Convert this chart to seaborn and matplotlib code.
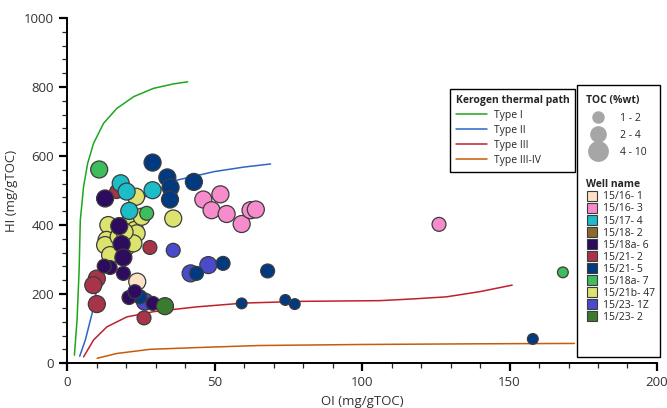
import matplotlib.pyplot as plt
import matplotlib.lines as mlines
import matplotlib.patches as mpatches
from matplotlib.ticker import MultipleLocator
import pandas as pd
import seaborn as sns

# well names / colours (legend order)
wells = ['15/16- 1', '15/16- 3', '15/17- 4', '15/18- 2', '15/18a- 6', '15/21- 2',
         '15/21- 5', '15/18a- 7', '15/21b- 47', '15/23- 1Z', '15/23- 2']
well_colors = ['#fde2c6', '#f78ccc', '#1cbcc8', '#8c6a2c', '#2d0b5e', '#a8344a',
               '#023a80', '#3dbd5c', '#dde36f', '#4a4bcb', '#3b7b2f']

# TOC classes
toc_classes = ['1 - 2', '2 - 4', '4 - 10']

# samples (OI, HI, TOC class) per well
yellow_oi = [23.4, 36.0, 14.0, 13.4, 21.3, 23.0, 21.9, 23.6, 20.2, 25.3, 12.9, 14.6, 22.5, 17.5, 19.5]
yellow_hi = [482, 419, 400, 357, 410, 386, 361, 376, 337, 424, 342, 313, 347, 366, 380]
yellow_toc = ['4 - 10'] * 15

crimson_oi = [16.8, 28.1, 10.1, 8.9, 10.1, 26.1]
crimson_hi = [497, 335, 245, 226, 171, 131]
crimson_toc = ['2 - 4', '2 - 4', '4 - 10', '4 - 10', '4 - 10', '2 - 4']

blue_oi = [36.0, 41.9, 47.9, 26.4]
blue_hi = [327, 260, 284, 178]
blue_toc = ['2 - 4', '4 - 10', '4 - 10', '4 - 10']

cyan_oi = [18.2, 20.2, 29.0, 21.1]
cyan_hi = [521, 497, 501, 441]
cyan_toc = ['4 - 10'] * 4

pink_oi = [46.2, 52.0, 49.0, 54.1, 59.2, 62.2, 64.0, 126.1]
pink_hi = [474, 489, 443, 432, 403, 443, 445, 402]
pink_toc = ['4 - 10'] * 7 + ['2 - 4']

green_oi = [10.9, 27.0, 168.1]
green_hi = [561, 434, 263]
green_toc = ['4 - 10', '2 - 4', '1 - 2']

beige_oi = [23.8]
beige_hi = [236]
beige_toc = ['4 - 10']

navy_oi = [29.0, 34.0, 35.1, 34.9, 43.0, 43.9, 52.9, 68.0, 59.2, 74.0, 77.2, 157.9, 24.7]
navy_hi = [581, 538, 509, 474, 525, 260, 289, 267, 173, 183, 171, 70, 192]
navy_toc = ['4 - 10'] * 5 + ['2 - 4'] * 3 + ['1 - 2'] * 4 + ['2 - 4']

purple_oi = [12.9, 17.7, 18.5, 19.1, 14.6, 12.6, 19.1, 21.0, 23.0, 29.1]
purple_hi = [477, 397, 345, 306, 277, 281, 260, 190, 207, 173]
purple_toc = ['4 - 10'] * 4 + ['2 - 4'] * 6

dkgreen_oi = [33.2]
dkgreen_hi = [165]
dkgreen_toc = ['4 - 10']

# kerogen thermal paths
type1_oi = [2.5, 3.4, 4.1, 4.5, 5.6, 7.0, 9.0, 12.4, 16.9, 22.6, 29.3, 36.1, 40.9]
type1_hi = [23, 125, 270, 414, 511, 579, 637, 695, 738, 772, 796, 809, 815]
type2_oi = [4.3, 6.2, 8.5, 10.7, 12.4, 15.5, 20.0, 26.5, 37.2, 50.0, 60.0, 69.0]
type2_hi = [20, 67, 144, 241, 308, 375, 432, 482, 530, 555, 568, 577]
type3_oi = [5.6, 9.0, 13.5, 20.3, 29.3, 44.0, 60.0, 80.0, 106.0, 117.3, 128.6, 139.9, 150.9]
type3_hi = [18, 67, 105, 134, 149, 163, 174, 179, 181, 186, 192, 207, 226]
type34_oi = [10.2, 16.9, 28.2, 44.0, 65.0, 100.0, 140.0, 172.0]
type34_hi = [14, 28, 40, 45, 51, 54, 56, 57]

path_names = ['Type I', 'Type II', 'Type III', 'Type III-IV']
path_colors = ['#1ea61e', '#2b66c6', '#c0202c', '#c85a0c']

groups = [
    ('15/21b- 47', yellow_oi, yellow_hi, yellow_toc),
    ('15/21- 2', crimson_oi, crimson_hi, crimson_toc),
    ('15/23- 1Z', blue_oi, blue_hi, blue_toc),
    ('15/17- 4', cyan_oi, cyan_hi, cyan_toc),
    ('15/16- 3', pink_oi, pink_hi, pink_toc),
    ('15/18a- 7', green_oi, green_hi, green_toc),
    ('15/16- 1', beige_oi, beige_hi, beige_toc),
    ('15/21- 5', navy_oi, navy_hi, navy_toc),
    ('15/18a- 6', purple_oi, purple_hi, purple_toc),
    ('15/23- 2', dkgreen_oi, dkgreen_hi, dkgreen_toc),
]
frames = [pd.DataFrame({'well': w, 'OI': o, 'HI': h, 'TOC': t}) for w, o, h, t in groups]
df = pd.concat(frames, ignore_index=True)

paths = pd.concat([
    pd.DataFrame({'path': n, 'OI': o, 'HI': h})
    for n, o, h in zip(path_names, [type1_oi, type2_oi, type3_oi, type34_oi],
                       [type1_hi, type2_hi, type3_hi, type34_hi])
], ignore_index=True)

sns.set_style('ticks')
plt.rcParams['font.family'] = ['Open Sans', 'DejaVu Sans']

fig = plt.figure(figsize=(6.67, 4.08), dpi=100)
ax = fig.add_axes([0.1005, 0.110, 0.8845, 0.846])

sns.lineplot(data=paths, x='OI', y='HI', hue='path', hue_order=path_names,
             palette=path_colors, sort=False, estimator=None, units='path',
             linewidth=1.1, legend=False, ax=ax, zorder=1)

sizes = {'1 - 2': 60, '2 - 4': 100, '4 - 10': 150}
sns.scatterplot(data=df, x='OI', y='HI', hue='well', hue_order=wells,
                palette=dict(zip(wells, well_colors)), size='TOC', sizes=sizes,
                edgecolor='#3c3c3c', linewidth=0.9, alpha=1, legend=False,
                ax=ax, zorder=3)

ax.set_xlim(0, 200)
ax.set_ylim(0, 1000)
ax.xaxis.set_major_locator(MultipleLocator(50))
ax.xaxis.set_minor_locator(MultipleLocator(10))
ax.yaxis.set_major_locator(MultipleLocator(200))
ax.yaxis.set_minor_locator(MultipleLocator(40))
ax.tick_params(which='major', length=6, width=1.6, labelsize=9.5, colors='black',
               labelcolor='#333333')
ax.tick_params(which='minor', length=3.5, width=0.9)
for s in ['left', 'bottom']:
    ax.spines[s].set_linewidth(1.4)
    ax.spines[s].set_color('black')
sns.despine(ax=ax)
ax.set_xlabel('OI (mg/gTOC)', fontsize=9.5, color='#333333')
ax.set_ylabel('HI (mg/gTOC)', fontsize=9.5, color='#333333')

fs = 7.5
# kerogen legend
kh = [mlines.Line2D([], [], color=c, lw=1.1) for c in path_colors]
leg1 = ax.legend(kh, path_names, title='Kerogen thermal path', loc='upper left',
                 bbox_to_anchor=(445 / 667, 1 - 84 / 408), bbox_transform=fig.transFigure,
                 fontsize=fs, title_fontproperties={'weight': 'bold', 'size': fs},
                 frameon=True, fancybox=False, edgecolor='black', framealpha=1,
                 handlelength=3.0, handletextpad=0.7, labelspacing=0.38,
                 borderpad=0.55, alignment='left')
leg1.get_frame().set_linewidth(1.0)
ax.add_artist(leg1)

# box around TOC + well legends
rect = mpatches.Rectangle((577 / 667, 1 - 357 / 408), 83 / 667, 272 / 408,
                          transform=fig.transFigure, facecolor='white',
                          edgecolor='black', linewidth=1.0, zorder=4.5, clip_on=False)
ax.add_patch(rect)

th = [mlines.Line2D([], [], ls='', marker='o', markersize=m, color='#a6a6a6',
                    markeredgewidth=0) for m in [9, 12, 15]]
leg2 = ax.legend(th, toc_classes, title='TOC (%wt)', loc='upper left',
                 bbox_to_anchor=(577 / 667, 1 - 86 / 408), bbox_transform=fig.transFigure,
                 fontsize=fs, title_fontproperties={'weight': 'bold', 'size': fs},
                 frameon=False, handlelength=2.2, handletextpad=1.0, labelspacing=0.6,
                 borderpad=0.4, alignment='left')
leg2.set_zorder(6)
ax.add_artist(leg2)

wh = [mlines.Line2D([], [], ls='', marker='s', markersize=7, color=c,
                    markeredgecolor='#3c3c3c', markeredgewidth=0.8) for c in well_colors]
leg3 = ax.legend(wh, wells, title='Well name', loc='upper left',
                 bbox_to_anchor=(577 / 667, 1 - 170 / 408), bbox_transform=fig.transFigure,
                 fontsize=fs, title_fontproperties={'weight': 'bold', 'size': fs},
                 frameon=False, handlelength=1.0, handletextpad=0.6, labelspacing=0.1,
                 borderpad=0.4, alignment='left')
leg3.set_zorder(6)

fig.savefig('out.png', dpi=100)
